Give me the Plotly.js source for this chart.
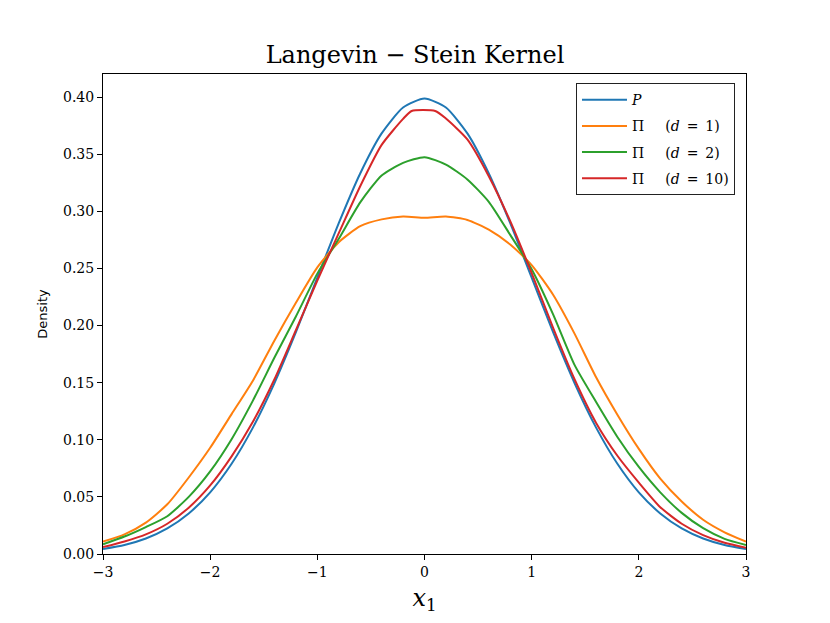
<!DOCTYPE html>
<html>
<head>
<meta charset="utf-8">
<script src="https://cdn.plot.ly/plotly-3.0.1.min.js"></script>
<style>html,body{margin:0;padding:0;background:#fff;}#chart{width:830px;height:623px;}</style>
</head>
<body>
<div id="chart"></div>
<script>
// Common x grid (step 0.2)
const xGrid = [-3.0,-2.8,-2.6,-2.4,-2.2,-2.0,-1.8,-1.6,-1.4,-1.2,-1.0,-0.8,-0.6,-0.4,-0.2,0.0,
               0.2,0.4,0.6,0.8,1.0,1.2,1.4,1.6,1.8,2.0,2.2,2.4,2.6,2.8,3.0];

// Target density P
const densP = [0.0044,0.0079,0.0136,0.0224,0.0355,0.0540,0.0790,0.1109,0.1497,0.1942,0.2420,0.2897,0.3332,0.3683,0.3910,0.3989,
               0.3910,0.3683,0.3332,0.2897,0.2420,0.1942,0.1497,0.1109,0.0790,0.0540,0.0355,0.0224,0.0136,0.0079,0.0044];

// Pi (d = 1)
const densD1 = [0.0108,0.0172,0.0275,0.0435,0.0670,0.0930,0.1225,0.1520,0.1870,0.2200,0.2510,0.2730,0.2870,0.2930,0.2955,0.2945,
                0.2955,0.2925,0.2840,0.2710,0.2530,0.2270,0.1930,0.1550,0.1220,0.0920,0.0660,0.0460,0.0300,0.0190,0.0108];

// Pi (d = 2)
const densD2 = [0.0085,0.0153,0.0236,0.0331,0.0500,0.0723,0.1005,0.1345,0.1720,0.2080,0.2455,0.2760,0.3079,0.3315,0.3425,0.3475,
                0.3410,0.3280,0.3084,0.2794,0.2493,0.2098,0.1656,0.1333,0.1025,0.0762,0.0540,0.0360,0.0226,0.0133,0.0079];

// Pi (d = 10) on its own x grid (flat top)
const xD10 = [-3.0,-2.8,-2.6,-2.4,-2.2,-2.0,-1.8,-1.6,-1.4,-1.2,-1.0,-0.8,-0.6,-0.4,-0.2,-0.12,0.10,
              0.2,0.4,0.6,0.8,1.0,1.2,1.4,1.6,1.8,2.0,2.2,2.4,2.6,2.8,3.0];
const densD10 = [0.0060,0.0110,0.0172,0.0265,0.0405,0.0600,0.0855,0.1160,0.1530,0.1960,0.2395,0.2809,0.3220,0.3582,0.3810,0.3879,0.3879,
                 0.3813,0.3630,0.3308,0.2914,0.2460,0.1980,0.1530,0.1150,0.0860,0.0625,0.0410,0.0265,0.0165,0.0098,0.0055];

const seriesNames = ['<i>P</i>', 'Π\u2003\u2002(<i>d</i>\u2002=\u20021)', 'Π\u2003\u2002(<i>d</i>\u2002=\u20022)', 'Π\u2003\u2002(<i>d</i>\u2002=\u200210)'];
const seriesColors = ['#1f77b4', '#ff7f0e', '#2ca02c', '#d62728'];
const xTicks = [-3,-2,-1,0,1,2,3];
const yTicks = [0,0.05,0.10,0.15,0.20,0.25,0.30,0.35,0.40];

const xs = [xGrid, xGrid, xGrid, xD10];
const ys = [densP, densD1, densD2, densD10];

const traces = ys.map((y, i) => ({
  x: xs[i], y: y, type: 'scatter', mode: 'lines',
  name: seriesNames[i], legendgroup: 'g' + i,
  line: {color: seriesColors[i], width: 2, shape: 'spline', smoothing: 0.6}
}));

const serif = 'DejaVu Serif, Liberation Serif, serif';
const layout = {
  width: 830, height: 623,
  paper_bgcolor: '#fff', plot_bgcolor: '#fff',
  margin: {l: 103, r: 84, t: 74, b: 69},
  title: {text: 'Langevin − Stein Kernel', font: {family: serif, size: 24, color: '#000'}, x: 0.5, xanchor: 'center', y: 0.912, yanchor: 'middle'},
  showlegend: true,
  legend: {x: 0.7356, y: 0.981, xanchor: 'left', yanchor: 'top', bgcolor: '#fff', bordercolor: '#222', borderwidth: 1,
           font: {family: serif, size: 14, color: '#000'}, tracegroupgap: 5, itemwidth: 45},
  xaxis: {range: [-3, 3], tickvals: xTicks, ticks: 'outside', ticklen: 5, tickcolor: '#000', showgrid: false, zeroline: false,
          showline: true, mirror: true, linecolor: '#000', linewidth: 1,
          tickfont: {family: serif, size: 14, color: '#000'},
          title: {text: '<i>x</i><sub>1</sub>', font: {family: serif, size: 24, color: '#000'}, standoff: 10}},
  yaxis: {range: [0, 0.4203], tickvals: yTicks, tickformat: '.2f', ticks: 'outside', ticklen: 5, tickcolor: '#000', showgrid: false, zeroline: false,
          showline: true, mirror: true, linecolor: '#000', linewidth: 1,
          tickfont: {family: serif, size: 14, color: '#000'},
          title: {text: 'Density', font: {family: 'DejaVu Sans, sans-serif', size: 13, color: '#000'}, standoff: 12}}
};
Plotly.newPlot('chart', traces, layout, {displayModeBar: false, staticPlot: true});
</script>
</body>
</html>
